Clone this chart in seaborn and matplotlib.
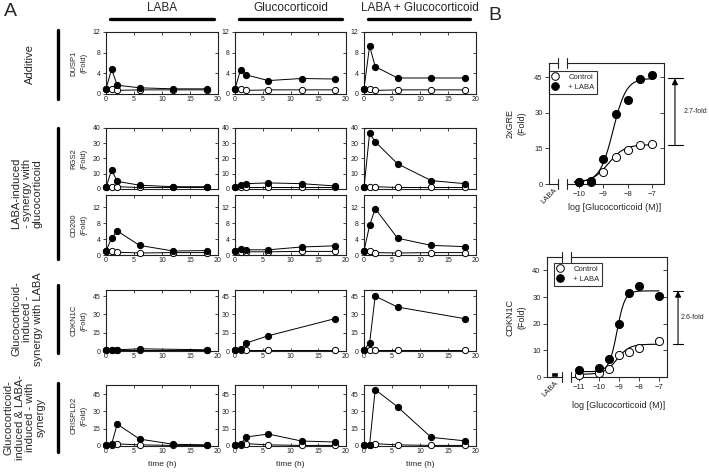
import numpy as np
import seaborn as sns
import matplotlib.pyplot as plt
import matplotlib.lines as mlines
import matplotlib.transforms as mtransforms
from matplotlib.lines import Line2D

sns.set_style("ticks")
plt.rcParams['font.family'] = ['Liberation Sans', 'DejaVu Sans']

W, H = 709, 472

# -------------------------
# Panel A data: time courses (filled = treated, open = control)
# one list per column: LABA, Glucocorticoid, LABA + Glucocorticoid
# -------------------------
treatments = ["LABA", "Glucocorticoid", "LABA + Glucocorticoid"]
hours = [0, 1, 2, 6, 12, 18]
hours_cdkn1c = [0, 1, 2, 6, 18]

dusp1_treated = [[1.0, 4.8, 1.7, 1.2, 1.0, 1.0],
                 [1.0, 4.7, 3.7, 2.6, 3.0, 2.9],
                 [1.0, 9.3, 5.3, 3.1, 3.1, 3.1]]
dusp1_control = [[1.0, 1.0, 0.7, 0.8, 0.8, 0.8],
                 [1.0, 0.9, 0.7, 0.8, 0.8, 0.8],
                 [1.0, 0.9, 0.7, 0.8, 0.8, 0.8]]

rgs2_treated = [[1.0, 12.5, 5.0, 2.5, 1.5, 1.5],
                [1.0, 2.5, 3.5, 4.0, 3.5, 2.0],
                [1.0, 36.5, 31.0, 16.5, 5.5, 3.5]]
rgs2_control = [[1.0, 1.2, 1.5, 1.0, 1.0, 1.0],
                [1.0, 1.0, 1.0, 1.0, 1.0, 1.0],
                [1.0, 1.0, 1.5, 1.0, 1.0, 1.0]]

cd200_treated = [[1.0, 4.2, 6.0, 2.4, 1.0, 1.1],
                 [1.0, 1.6, 1.3, 1.3, 2.0, 2.3],
                 [1.0, 7.4, 11.6, 4.2, 2.4, 2.1]]
cd200_control = [[1.0, 1.0, 0.7, 0.5, 0.6, 0.6],
                 [1.0, 0.8, 0.8, 0.8, 0.9, 0.9],
                 [1.0, 1.0, 0.6, 0.5, 0.6, 0.6]]

cdkn1c_treated = [[1.0, 1.0, 1.0, 1.8, 1.0],
                  [1.0, 1.5, 6.5, 12.5, 26.5],
                  [1.0, 6.5, 45.0, 36.0, 26.5]]
cdkn1c_control = [[1.0, 1.0, 1.0, 1.0, 1.0],
                  [1.0, 1.0, 1.0, 1.0, 1.0],
                  [1.0, 1.0, 1.0, 1.0, 1.0]]

crispld2_treated = [[1.0, 1.5, 19.0, 6.0, 1.5, 1.0],
                    [1.0, 1.5, 7.8, 10.4, 4.3, 3.5],
                    [1.0, 1.0, 49.0, 34.0, 7.5, 4.5]]
crispld2_control = [[1.0, 1.0, 1.8, 1.0, 0.5, 0.5],
                    [1.0, 1.0, 2.0, 1.0, 0.5, 0.5],
                    [1.0, 1.0, 2.0, 1.0, 0.5, 0.5]]

genes = ["DUSP1", "RGS2", "CD200", "CDKN1C", "CRISPLD2"]
gene_hours = [hours, hours, hours, hours_cdkn1c, hours]
gene_treated = [dusp1_treated, rgs2_treated, cd200_treated, cdkn1c_treated, crispld2_treated]
gene_control = [dusp1_control, rgs2_control, cd200_control, cdkn1c_control, crispld2_control]
gene_ymax = [12, 40, 15, 50, 53]
gene_yticks = [[0, 4, 8, 12], [0, 10, 20, 30, 40], [0, 4, 8, 12], [0, 15, 30, 45], [0, 15, 30, 45]]

groups = ["Additive",
          "LABA-induced\n- synergy with\nglucocorticoid",
          "Glucocorticoid-\ninduced -\nsynergy with LABA",
          "Glucocorticoid-\ninduced & LABA-\ninduced - with\nsynergy"]

# -------------------------
# Panel B data: concentration-response
# -------------------------
gre_conc = [-10, -9.5, -9, -8.5, -8, -7.5, -7]
gre_laba = [1.0, 1.2, 10.6, 29.7, 35.5, 44.3, 45.8]
gre_control = [0.7, 0.9, 5.1, 11.5, 14.4, 16.3, 16.7]
gre_laba_alone = [0.4]
gre_fit_laba = (0.8, 44.5, -8.6, 1.6)      # bottom, top, logEC50, slope
gre_fit_control = (0.6, 16.6, -8.8, 1.3)

cdkn1c_conc = [-11, -10, -9.5, -9, -8.5, -8, -7]
cdkn1c_laba = [2.6, 3.3, 6.7, 19.8, 31.4, 34.0, 30.3]
cdkn1c_ctrl = [0.8, 1.4, 2.9, 8.2, 9.4, 10.8, 13.4]
cdkn1c_laba_alone = [1.8]
cdkn1c_fit_laba = (2.0, 32.3, -9.1, 2.2)
cdkn1c_fit_control = (1.0, 12.3, -9.1, 1.4)


def hill(x, bottom, top, logec50, slope):
    return bottom + (top - bottom) / (1 + 10 ** ((logec50 - x) * slope))


def box(x0, x1, y0, y1):
    return [x0 / W, 1 - y1 / H, (x1 - x0) / W, (y1 - y0) / H]


def style_spines(ax):
    for s in ax.spines.values():
        s.set_linewidth(0.8)
        s.set_color("#222222")


fig = plt.figure(figsize=(W / 100, H / 100), dpi=100)

# -------------------------
# Panel A
# -------------------------
col_px = [(106, 218), (235, 346), (364, 476)]
row_px = [(32, 94), (128, 189), (195, 255), (290, 351), (385, 446)]

for r, gene in enumerate(genes):
    for c in range(3):
        ax = fig.add_axes(box(*col_px[c], *row_px[r]))
        sns.lineplot(x=gene_hours[r], y=gene_control[r][c], ax=ax, color="black", lw=0.7,
                     marker="o", markersize=4.5, markerfacecolor="white",
                     markeredgecolor="black", markeredgewidth=0.7, clip_on=False, zorder=3)
        sns.lineplot(x=gene_hours[r], y=gene_treated[r][c], ax=ax, color="black", lw=0.7,
                     marker="o", markersize=4.5, markerfacecolor="black",
                     markeredgecolor="black", markeredgewidth=0.7, clip_on=False, zorder=4)
        ax.set_xlim(0, 20)
        ax.set_ylim(0, gene_ymax[r])
        ax.set_xticks([0, 5, 10, 15, 20])
        ax.set_yticks(gene_yticks[r])
        ax.set_xlabel("")
        ax.set_ylabel("")
        ax.tick_params(axis="both", labelsize=5, length=2.5, width=0.6, pad=1.5,
                       top=True, right=True, direction="in", colors="#222222")
        ax.tick_params(axis="y", direction="out")
        for tk in ax.yaxis.get_major_ticks():
            tk.tick2line.set_marker(mlines.TICKLEFT)
        if r == 1:
            ax.tick_params(axis="x", labelbottom=False)
        style_spines(ax)
        if c == 0:
            yc = (row_px[r][0] + row_px[r][1]) / 2
            fig.text(79 / W, 1 - yc / H, f"{gene}\n(Fold)", rotation=90, ha="center",
                     va="center", fontsize=5.5, linespacing=1.5)
        if r == len(genes) - 1:
            xc = (col_px[c][0] + col_px[c][1]) / 2
            fig.text(xc / W, 1 - 465 / H, "time (h)", ha="center", va="center", fontsize=6)

# column headers with bars
bar_px = [(110, 214), (239, 342), (368, 470)]
for c, name in enumerate(treatments):
    xc = (col_px[c][0] + col_px[c][1]) / 2
    fig.text(xc / W, 1 - 8 / H, name, ha="center", va="center", fontsize=8.5)
    fig.add_artist(Line2D([bar_px[c][0] / W, bar_px[c][1] / W], [1 - 19 / H, 1 - 19 / H],
                          transform=fig.transFigure, color="black", lw=2.4))

# row group labels with vertical bars
group_bars = [(30, 99), (128, 259), (285, 353), (383, 452)]
group_x = [30, 27, 27, 25]
for g, label in enumerate(groups):
    y0, y1 = group_bars[g]
    fig.add_artist(Line2D([58 / W, 58 / W], [1 - y0 / H, 1 - y1 / H],
                          transform=fig.transFigure, color="black", lw=2.4))
    fig.text(group_x[g] / W, 1 - (y0 + y1) / 2 / H, label, rotation=90, ha="center",
             va="center", multialignment="center", fontsize=8, linespacing=1.1)

fig.text(10 / W, 1 - 11 / H, "A", ha="center", va="center", fontsize=14)
fig.text(495 / W, 1 - 15 / H, "B", ha="center", va="center", fontsize=14)


# -------------------------
# Panel B
# -------------------------
def dose_panel(lx, mx, yr, conc, laba_pts, ctrl_pts, fit_laba, fit_ctrl, alone,
               ymax, yticks, xlim, xticks, curve_start, bar_w, ylabel, legend_xy,
               caps, arrow_x, text_x):
    axL = fig.add_axes(box(*lx, *yr))
    axM = fig.add_axes(box(*mx, *yr))

    sns.barplot(x=["LABA"], y=alone, ax=axL, color="black", width=bar_w)
    axL.set_xlim(-0.6, 0.6)
    axL.set_ylim(0, ymax)
    axL.set_yticks(yticks)
    axL.set_xlabel("")
    axL.set_ylabel("")
    axL.tick_params(axis="y", labelsize=5.5, length=3, width=0.6, pad=1.5, direction="out")
    axL.tick_params(axis="x", length=0, labelsize=5.5, pad=2)
    for lbl in axL.get_xticklabels():
        lbl.set_rotation(45)
        lbl.set_ha("right")
        lbl.set_rotation_mode("anchor")
    axL.spines["right"].set_visible(False)
    style_spines(axL)

    xs = np.linspace(curve_start, -7, 200)
    sns.lineplot(x=xs, y=hill(xs, *fit_laba), ax=axM, color="black", lw=0.8)
    sns.lineplot(x=xs, y=hill(xs, *fit_ctrl), ax=axM, color="black", lw=0.8)
    sns.scatterplot(x=conc, y=ctrl_pts, ax=axM, color="white", edgecolor="black",
                    s=34, linewidth=0.7, zorder=3, clip_on=False)
    sns.scatterplot(x=conc, y=laba_pts, ax=axM, color="black", edgecolor="black",
                    s=34, linewidth=0.7, zorder=4, clip_on=False)
    axM.set_xlim(*xlim)
    axM.set_ylim(0, ymax)
    axM.set_xticks(xticks)
    axM.set_yticks(yticks)
    axM.set_xlabel("")
    axM.set_ylabel("")
    axM.tick_params(axis="x", labelsize=5.5, length=3, width=0.6, pad=2, direction="out")
    axM.tick_params(axis="y", left=False, labelleft=False, right=True, direction="in",
                    length=3, width=0.6)
    axM.spines["left"].set_visible(False)
    style_spines(axM)

    # axis break marks
    for a, xb in ((axL, 1), (axM, 0)):
        for yb in (0, 1):
            a.plot([xb, xb], [yb - 0.04, yb + 0.04], transform=a.transAxes,
                   color="#222222", lw=0.8, clip_on=False)

    handles = [Line2D([], [], ls="none", marker="o", markersize=5.5, markerfacecolor="white",
                      markeredgecolor="black", markeredgewidth=0.7),
               Line2D([], [], ls="none", marker="o", markersize=5.5, markerfacecolor="black",
                      markeredgecolor="black", markeredgewidth=0.7)]
    leg = axM.legend(handles, ["Control", "+ LABA"], loc="upper left",
                     bbox_to_anchor=(legend_xy[0] / W, 1 - legend_xy[1] / H),
                     bbox_transform=fig.transFigure, borderaxespad=0, frameon=True,
                     fancybox=False, edgecolor="black", fontsize=5.5, handletextpad=1.2,
                     borderpad=0.35, labelspacing=0.35, handlelength=1.0)
    leg.get_frame().set_linewidth(0.8)

    # fold-change arrow between fitted maxima
    trans = mtransforms.blended_transform_factory(axM.transAxes, axM.transData)
    low, high = fit_ctrl[1], fit_laba[1]
    for lvl in (low, high):
        axM.plot(caps, [lvl, lvl], transform=trans, color="black", lw=0.8, clip_on=False)
    axM.annotate("", xy=(arrow_x, high), xytext=(arrow_x, low), xycoords=trans,
                 textcoords=trans, annotation_clip=False,
                 arrowprops=dict(arrowstyle="-|>", color="black", lw=0.8,
                                 mutation_scale=9, shrinkA=0, shrinkB=0))
    axM.text(text_x, (low + high) / 2, f"{high / low:.1f}-fold", transform=trans,
             fontsize=5, ha="left", va="center", clip_on=False)

    fig.text(516 / W, 1 - (yr[0] + yr[1]) / 2 / H, ylabel, rotation=90, ha="center",
             va="center", fontsize=6.5, linespacing=1.4)


dose_panel((549, 558), (567, 664), (63, 184), gre_conc, gre_laba, gre_control,
           gre_fit_laba, gre_fit_control, gre_laba_alone, 51, [0, 15, 30, 45],
           (-10.5, -6.5), [-10, -9, -8, -7], -10.2, 0.9, "2xGRE\n(Fold)", (549, 71),
           [1.04, 1.196], 1.113, 1.2)
fig.text(615 / W, 1 - 207 / H, "log [Glucocorticoid (M)]", ha="center", va="center",
         fontsize=6.5)

dose_panel((547, 562), (571, 667), (257, 377), cdkn1c_conc, cdkn1c_laba, cdkn1c_ctrl,
           cdkn1c_fit_laba, cdkn1c_fit_control, cdkn1c_laba_alone, 45, [0, 10, 20, 30, 40],
           (-11.4, -6.6), [-11, -10, -9, -8, -7], -11.0, 0.56, "CDKN1C\n(Fold)", (554, 263),
           [1.06, 1.17], 1.115, 1.14)
fig.text(619 / W, 1 - 405 / H, "log [Glucocorticoid (M)]", ha="center", va="center",
         fontsize=6.5)

fig.savefig("out.png", dpi=100)
plt.close(fig)
